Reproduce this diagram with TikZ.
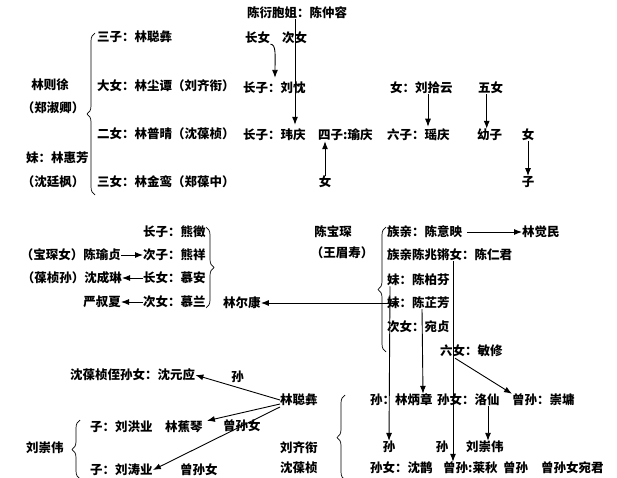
\documentclass[tikz,border=0pt]{standalone}
\usepackage{fontspec}
\setmainfont{Noto Sans CJK SC}
\usetikzlibrary{arrows.meta,decorations.pathreplacing}

\begin{document}
\begin{tikzpicture}[x=1pt, y=-1pt,
  txt/.style={anchor=west, inner sep=0pt, font=\fontsize{12.5}{14}\selectfont\bfseries},
  txtr/.style={txt, anchor=east},
  glyph/.style={txt, anchor=center},
  famarrow/.style={arrows={-Latex[length=8pt,width=6pt]}, line width=.9pt},
  kinbrace/.style={decorate, decoration={brace, amplitude=8pt}, line width=.7pt}]
\useasboundingbox (0,0) rectangle (617,478);

% Lin Zexu and his children
\node[glyph] at (50,85) (zexu) {林则徐};
\node[glyph] at (53,108) (shuqing) {（郑淑卿）};
\node[txt] at (26,158) (huifang) {妹：林惠芳};
\node[glyph] at (53,182) (tingfeng) {（沈廷枫）};
\draw[kinbrace] (95,195) -- (95,33);
\node[txt] at (97,37) (sanzi) {三子：林聪彝};
\node[txt] at (97,86) (danv) {大女：林尘谭（刘齐衔）};
\node[txt] at (97,134) (ernv) {二女：林普晴（沈葆桢）};
\node[txt] at (97,182) (sannv) {三女：林金鸾（郑葆中）};

% grandchildren
\node[txt] at (247,13) (zhongrong) {陈衍胞姐：陈仲容};
\node[txt] at (245,38) (changnv) {长女};
\node[txt] at (282,38) (cinv) {次女};
\node[txt] at (243,88) (liuchen) {长子：刘忱};
\node[txt] at (390,88) (shiyun) {女：刘拾云};
\node[txt] at (478,88) (wunv) {五女};
\node[txt] at (243,135) (weiqing) {长子：玮庆};
\node[txt] at (318,135) (yuqing) {四子:瑜庆};
\node[txt] at (387,135) (yaoqing) {六子：瑶庆};
\node[txt] at (477,135) (youzi) {幼子};
\node[glyph] at (528,135) (nvb) {女};
\node[glyph] at (325,182) (nva) {女};
\node[glyph] at (528,182) (zib) {子};

\draw[famarrow] (changnv.south east) .. controls +(6,0) and +(0,-22) .. ([xshift=32pt,yshift=4pt]liuchen.north west);
\draw[famarrow] ([xshift=48pt]zhongrong.south west) -- ([xshift=52pt,yshift=4pt]weiqing.north west);
\draw[famarrow] ([xshift=38pt]shiyun.south west) -- ([xshift=41pt,yshift=2pt]yaoqing.north west);
\draw[famarrow] ([xshift=-4pt]wunv.south) -- ([xshift=-3pt]youzi.north);
\draw[famarrow] (nva.north) -- (nva.north |- yuqing.south);
\draw[famarrow] (nvb.south) -- (zib.north);

% Lin Erkang
\node[txt] at (143,232) (xiongzheng) {长子：熊徵};
\node[txt] at (143,255) (xiongxiang) {次子：熊祥};
\node[txt] at (143,278) (muan) {长女：慕安};
\node[txt] at (143,302) (mulan) {次女：慕兰};
\node[txtr] at (121,255) (yuzhen) {（宝琛女）陈瑜贞};
\node[txtr] at (122,278) (chenglin) {（葆桢孙）沈成琳};
\node[txtr] at (121,302) (shuxia) {严叔夏};
\draw[famarrow] (yuzhen) -- (xiongxiang);
\draw[famarrow] (muan) -- (chenglin);
\draw[famarrow] (mulan) -- (shuxia);
\draw[kinbrace] (206,227) -- (206,308);
\node[txt] at (223,303) (erkang) {林尔康};

% Chen Baochen
\node[glyph] at (333,232) (baochen) {陈宝琛};
\node[glyph] at (342,253) (meishou) {（王眉寿）};
\draw[kinbrace] (386,352) -- (386,227);
\node[txt] at (387,232) (yiying) {族亲：陈意映};
\node[txt] at (522,232) (juemin) {林觉民};
\node[txt] at (387,255) (renjun) {族亲陈兆锵女：陈仁君};
\node[txt] at (387,280) (baifen) {妹：陈柏芬};
\node[txt] at (387,303) (zhifang) {妹：陈芷芳};
\node[txt] at (387,327) (wanzhen) {次女：宛贞};
\node[txt] at (440,351) (minxiu) {六女：敏修};
\draw[famarrow, shorten <=5pt] (yiying) -- (juemin);
\draw[famarrow] ([xshift=11pt]zhifang.west) -- (erkang);

% later generations
\node[txt] at (70,375) (yuanying) {沈葆桢侄孙女：沈元应};
\node[txt] at (280,400) (congyi) {林聪彝};
\node[txt] at (90,427) (hongye) {子：刘洪业};
\node[txt] at (165,427) (jiaoqin) {林蕉琴};
\node[txt] at (26,448) (chongwei) {刘崇伟};
\draw[kinbrace] (80,479) -- (80,420);
\node[txt] at (90,470) (taoye) {子：刘涛业};
\node[txt] at (180,470) (zsnv) {曾孙女};
\node[txt] at (280,448) (qixian) {刘齐衔};
\node[txt] at (280,468) (baozhen) {沈葆桢};
\draw[kinbrace] (345,480) -- (345,395);
\node[txt] at (370,400) (bingzhang) {孙：林炳章};
\node[txt] at (437,400) (luoxian) {孙女：洛仙};
\node[txt] at (512,400) (chongyong) {曾孙：崇墉};
\node[glyph] at (389,447) (sunb) {孙};
\node[glyph] at (442,447) (sunc) {孙};
\node[txt] at (466,447) (chongweib) {刘崇伟};
\node[txt] at (370,468) (shenque) {孙女：沈鹊};
\node[txt] at (443,468) (laiqiu) {曾孙:莱秋};
\node[txt] at (503,468) (zengsun) {曾孙};
\node[txt] at (541,468) (wanjun) {曾孙女宛君};

\draw[famarrow] (congyi.west) -- node[txt, anchor=south, above=4pt] (sunlbl) {孙} (yuanying.east);
\draw[famarrow] ([yshift=-4pt]congyi.west) -- ([xshift=4pt]jiaoqin.north east);
\draw[famarrow] ([yshift=-7pt]congyi.west) -- node[glyph, pos=.3] (zsnlbl) {曾孙女} (taoye.east);
\draw[famarrow] ([xshift=3pt]baifen.south west) -- (sunb.north);
\draw[famarrow] ([xshift=35pt]zhifang.south west) -- ([xshift=53pt]bingzhang.north west);
\draw[famarrow] ([xshift=66pt]renjun.south west) -- ([xshift=10pt]laiqiu.north west);
\draw[famarrow] ([xshift=15pt,yshift=-1pt]minxiu.south west) -- (chongyong.north west);
\draw[famarrow] ([xshift=51pt]luoxian.south west) -- ([xshift=22pt]chongweib.north west);
\end{tikzpicture}
\end{document}
